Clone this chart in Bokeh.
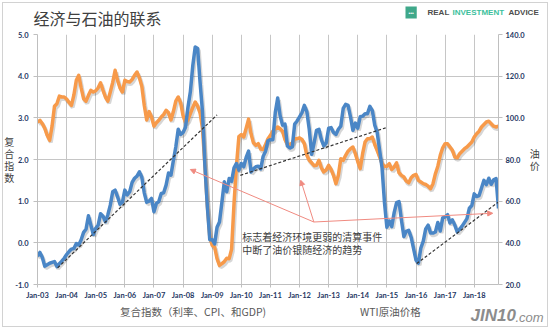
import numpy as np
import pandas as pd
from bokeh.plotting import figure
from bokeh.layouts import column
from bokeh.models import (Range1d, LinearAxis, FixedTicker, PrintfTickFormatter, Label,
                          Legend, LegendItem, Arrow, NormalHead, ColumnDataSource)
from bokeh.core.properties import value
from bokeh.transform import dodge
from bokeh.embed import file_html
from bokeh.resources import INLINE

# ---------------- data (monthly, Jan-2003 .. Nov-2018) ----------------
composite = [
    2.90, 2.94, 2.86, 2.75, 2.58, 2.46, 2.80, 3.28, 3.34, 3.52, 3.50, 3.50,   # 2003
    3.45, 3.37, 3.30, 3.55, 3.90, 4.02, 3.72, 3.46, 3.40, 3.54, 3.66, 3.62,   # 2004
    3.65, 3.72, 3.84, 3.66, 3.50, 3.40, 3.62, 3.85, 4.14, 3.90, 3.72, 3.62,   # 2005
    3.90, 3.87, 3.86, 3.92, 4.02, 4.10, 3.96, 3.76, 3.30, 2.95, 3.15, 3.02,   # 2006
    2.80, 2.88, 2.94, 3.02, 3.08, 3.18, 3.12, 2.95, 3.15, 3.40, 3.50, 3.36,   # 2007
    3.05, 2.89, 2.95, 3.10, 3.25, 3.38, 3.28, 3.12, 2.75, 1.85, 0.90, 0.15,   # 2008
    -0.06, -0.10, -0.38, -0.54, -0.50, -0.45, -0.37, -0.38, -0.15, 0.95, 1.85, 2.55,  # 2009
    2.60, 2.54, 2.75, 2.97, 2.62, 2.40, 2.34, 2.38, 2.25, 2.24, 2.36, 2.50,   # 2010
    2.58, 2.68, 2.74, 2.78, 2.74, 2.68, 2.48, 2.36, 2.36, 2.40, 2.50, 2.50,   # 2011
    2.52, 2.48, 2.38, 2.10, 1.98, 1.92, 1.85, 1.86, 1.98, 1.80, 1.70, 1.75,   # 2012
    1.86, 1.76, 1.62, 1.42, 1.62, 2.02, 1.98, 2.10, 2.20, 2.26, 2.30, 2.14,   # 2013
    1.95, 1.78, 2.14, 2.42, 2.50, 2.50, 2.54, 2.36, 2.22, 2.06, 1.90, 1.84,   # 2014
    1.84, 1.90, 1.76, 1.82, 1.92, 1.68, 1.62, 1.58, 1.48, 1.44, 1.56, 1.62,   # 2015
    1.64, 1.50, 1.46, 1.42, 1.40, 1.36, 1.30, 1.42, 1.66, 1.84, 2.10, 2.28,   # 2016
    2.38, 2.38, 2.30, 2.22, 2.06, 2.04, 2.14, 2.20, 2.26, 2.30, 2.36, 2.42,   # 2017
    2.54, 2.62, 2.68, 2.78, 2.84, 2.90, 2.92, 2.86, 2.80, 2.78, 2.80,         # 2018
]
wti = [
    33.5, 35.4, 33.0, 28.8, 29.5, 30.2, 30.6, 31.0, 28.6, 30.0, 31.2, 32.6,
    34.4, 35.8, 37.0, 37.3, 39.7, 39.0, 41.5, 45.0, 46.5, 53.0, 48.5, 44.0,
    47.0, 48.5, 54.0, 52.8, 50.1, 53.5, 58.1, 64.5, 65.3, 62.1, 58.5, 59.5,
    65.3, 63.0, 64.5, 69.0, 71.0, 72.0, 74.1, 71.5, 64.0, 59.5, 60.0, 61.3,
    54.9, 58.9, 59.8, 63.7, 64.0, 67.7, 73.5, 72.5, 79.5, 86.0, 94.5, 92.0,
    93.0, 95.5, 105.0, 112.5, 125.0, 134.0, 133.3, 117.0, 103.0, 77.0, 57.5, 41.5,
    41.5, 39.5, 47.5, 50.0, 59.5, 69.3, 64.5, 70.9, 69.5, 76.0, 78.1, 74.9,
    78.1, 76.5, 81.0, 84.0, 74.0, 75.5, 76.5, 76.8, 75.5, 81.5, 84.0, 89.0,
    89.5, 89.5, 102.5, 109.5, 101.0, 96.5, 97.0, 86.5, 85.5, 86.0, 97.0, 98.5,
    100.5, 102.5, 106.0, 103.0, 94.5, 82.5, 88.0, 94.0, 94.5, 89.5, 86.5, 88.0,
    95.0, 95.3, 93.0, 92.0, 94.5, 96.0, 104.5, 106.5, 106.0, 100.5, 94.0, 97.5,
    95.0, 100.5, 100.8, 102.0, 102.0, 105.5, 103.5, 96.5, 93.0, 84.5, 76.0, 59.5,
    47.5, 50.5, 47.8, 54.5, 59.3, 59.8, 51.0, 43.0, 45.5, 46.0, 42.7, 37.2,
    31.7, 30.3, 37.5, 40.8, 46.7, 48.5, 44.7, 44.7, 45.2, 49.8, 45.7, 52.0,
    52.5, 53.5, 49.5, 51.0, 48.5, 45.2, 46.6, 48.0, 49.8, 51.6, 56.6, 57.9,
    63.5, 62.2, 62.7, 66.3, 70.0, 67.9, 71.0, 68.1, 70.2, 70.8, 56.5,
]
x_tick_labels = ["Jan-03", "Jan-04", "Jan-05", "Jan-06", "Jan-07", "Jan-08", "Jan-09", "Jan-10",
                 "Jan-11", "Jan-12", "Jan-13", "Jan-14", "Jan-15", "Jan-16", "Jan-17", "Jan-18"]
left_ticks = [-1.0, 0.0, 1.0, 2.0, 3.0, 4.0, 5.0]
right_ticks = [20.0, 40.0, 60.0, 80.0, 100.0, 120.0, 140.0]

# dashed trend lines on oil price (month index, oil price)
trend1_x, trend1_y = [8.3, 74.0], [28.0, 101.4]
trend2_x, trend2_y = [83.6, 143.5], [72.4, 95.2]
trend3_x, trend3_y = [156.3, 190.0], [30.1, 59.6]
# red arrows (start point, then targets) in month index / composite units
arrow_start = (113.9, 0.50)
arrow_targets_x = [63.0, 108.5, 187.6]
arrow_targets_y = [1.76, 1.50, 0.71]

title = "经济与石油的联系"
left_title = "复合指数"
right_title = "油价"
note_lines = ["标志着经济环境更弱的清算事件", "中断了油价银随经济的趋势"]
series_names = ["复合指数（利率、CPI、和GDP)", "WTI原油价格"]

months = pd.date_range("2003-01-01", periods=len(wti), freq="MS")
month_idx = (months.year - 2003) * 12 + (months.month - 1)
src = ColumnDataSource(dict(x=list(month_idx), comp=composite, oil=wti))

ORANGE = "#F79A4A"
BLUE = "#4A86C6"
AXIS_TXT = "#1F3864"
GRID = "#C6C6C6"
CJK = "Noto Sans CJK SC"
W = 550
HEAD_H, MAIN_H = 29, 273
FOOT_H = 329 - HEAD_H - MAIN_H


def no_align(f):
    try:
        f.frame_align = False
    except Exception:
        pass


def clear_bg(f):
    f.background_fill_alpha = 0
    f.border_fill_alpha = 0


def blank(height):
    f = figure(width=W, height=height, output_backend="svg", toolbar_location=None,
               min_border=0, x_axis_location=None, y_axis_location=None,
               x_range=Range1d(0, 1), y_range=Range1d(0, 1))
    f.outline_line_color = None
    f.grid.visible = False
    f.title.visible = False
    clear_bg(f)
    no_align(f)
    return f


# ---------------- header: title + brand ----------------
head = blank(HEAD_H)
head.add_layout(Label(x=33, y=HEAD_H - 17.5, x_units="screen", y_units="screen", text=title,
                      text_font=CJK, text_font_size="16px", text_color="#404040",
                      text_baseline="middle"))
head.add_layout(Label(x=405, y=HEAD_H - 12, x_units="screen", y_units="screen", text="•••",
                      text_font_size="5px", text_color="white", background_fill_color="#3FA88A",
                      padding=3, text_baseline="middle"))
for txt, bx, col in [("REAL", 427, "#4D4D4D"), ("INVESTMENT", 452, "#3CBF9C"),
                     ("ADVICE", 508, "#4D4D4D")]:
    head.add_layout(Label(x=bx, y=HEAD_H - 12, x_units="screen", y_units="screen", text=txt,
                          text_font="Liberation Sans", text_font_style="bold",
                          text_font_size="8px", text_color=col, text_baseline="middle"))

# ---------------- main chart ----------------
p = figure(width=W, height=MAIN_H, output_backend="svg", toolbar_location=None,
           x_range=Range1d(0, len(wti) - 1), y_range=Range1d(-1, 5),
           min_border_left=37, min_border_right=52, min_border_top=5, min_border_bottom=18)
p.outline_line_color = None
p.title.visible = False
clear_bg(p)
no_align(p)
p.extra_y_ranges = {"oil": Range1d(20, 140)}

year_ticks = [12 * i for i in range(len(x_tick_labels))]
p.xaxis.ticker = FixedTicker(ticks=year_ticks)
p.xaxis.major_label_overrides = {t: lab for t, lab in zip(year_ticks, x_tick_labels)}
p.yaxis.ticker = FixedTicker(ticks=left_ticks)
p.yaxis.formatter = PrintfTickFormatter(format="%.1f")
p.xgrid.ticker = FixedTicker(ticks=year_ticks)
for g in (p.xgrid, p.ygrid):
    g.grid_line_color = GRID
    g.grid_line_width = 1

r_axis = LinearAxis(y_range_name="oil", ticker=FixedTicker(ticks=right_ticks),
                    formatter=PrintfTickFormatter(format="%.1f"))
p.add_layout(r_axis, "right")

for ax in (p.xaxis[0], p.yaxis[0], r_axis):
    ax.axis_line_color = "#BFBFBF"
    ax.major_tick_line_color = "#BFBFBF"
    ax.minor_tick_line_color = None
    ax.major_tick_in = 0
    ax.major_tick_out = 4
    ax.major_label_text_font = "Lato"
    ax.major_label_text_font_style = "bold"
    ax.major_label_text_font_size = "7.5px"
    ax.major_label_text_color = AXIS_TXT
p.yaxis[0].major_label_standoff = 5
r_axis.major_label_standoff = 3
p.xaxis[0].major_tick_out = 3
p.xaxis[0].major_label_standoff = 3

for ax, txt, stand in ((p.yaxis[0], left_title, -2), (r_axis, right_title, 2)):
    ax.axis_label = "\n".join(txt)
    ax.axis_label_text_font = CJK
    ax.axis_label_text_font_style = "normal"
    ax.axis_label_text_font_size = "10px"
    ax.axis_label_text_color = "#404040"
    ax.axis_label_text_line_height = 0.8
    ax.axis_label_standoff = stand
    try:
        ax.axis_label_orientation = "horizontal"
    except Exception:
        pass

# soft shadows
p.line(x=dodge("x", 0.5), y=dodge("comp", -0.05), source=src, line_color="black",
       line_alpha=0.16, line_width=4)
p.line(x=dodge("x", 0.5), y=dodge("oil", -1.0), source=src, y_range_name="oil",
       line_color="black", line_alpha=0.16, line_width=4)

r_orange = p.line("x", "comp", source=src, line_color=ORANGE, line_width=3.5, line_join="round")
r_blue = p.line("x", "oil", source=src, y_range_name="oil", line_color=BLUE, line_width=3.5,
                line_join="round")

for tx, ty in ((trend1_x, trend1_y), (trend2_x, trend2_y), (trend3_x, trend3_y)):
    p.line(tx, ty, y_range_name="oil", line_color="#333333", line_width=1.2, line_dash="3 2")

RED = "#F08A80"
for ex, ey in zip(arrow_targets_x, arrow_targets_y):
    p.add_layout(Arrow(end=NormalHead(size=5, fill_color=RED, line_color=RED),
                       x_start=arrow_start[0], y_start=arrow_start[1], x_end=ex, y_end=ey,
                       line_color=RED, line_width=1))

for i, line in enumerate(note_lines):
    p.add_layout(Label(x=84.4, y=0.15 - 0.31 * i, text=line, text_font=CJK,
                       text_font_size="10px", text_color="#404040", text_baseline="middle"))

# ---------------- footer: legend + watermark ----------------
foot = blank(FOOT_H)
leg_o = foot.line([], [], line_color=ORANGE, line_width=3.5)
leg_b = foot.line([], [], line_color=BLUE, line_width=3.5)
legend = Legend(items=[LegendItem(label=value(series_names[0]), renderers=[leg_o]),
                       LegendItem(label=value(series_names[1]), renderers=[leg_b])],
                orientation="horizontal", location=(98, 10),
                glyph_width=17, glyph_height=12, label_standoff=5, spacing=72,
                padding=0, margin=0, border_line_alpha=0, background_fill_alpha=0,
                label_text_font=CJK, label_text_font_size="10.5px", label_text_color="#595959")
foot.add_layout(legend)
foot.add_layout(Label(x=470, y=FOOT_H - 13, x_units="screen", y_units="screen", text="JIN10",
                      text_font="Liberation Sans", text_font_style="bold italic",
                      text_font_size="17px", text_color="#8C8C8C", text_baseline="middle"))
foot.add_layout(Label(x=515, y=FOOT_H - 15, x_units="screen", y_units="screen", text=".com",
                      text_font="Liberation Sans", text_font_style="italic",
                      text_font_size="13px", text_color="#8C8C8C", text_baseline="middle"))

layout = column(head, p, foot, spacing=0)
layout.styles = {"outline": "1px solid #D2D2D2", "outline-offset": "-3px",
                 "background-color": "white"}

open("out.html", "w").write(file_html(layout, INLINE))
